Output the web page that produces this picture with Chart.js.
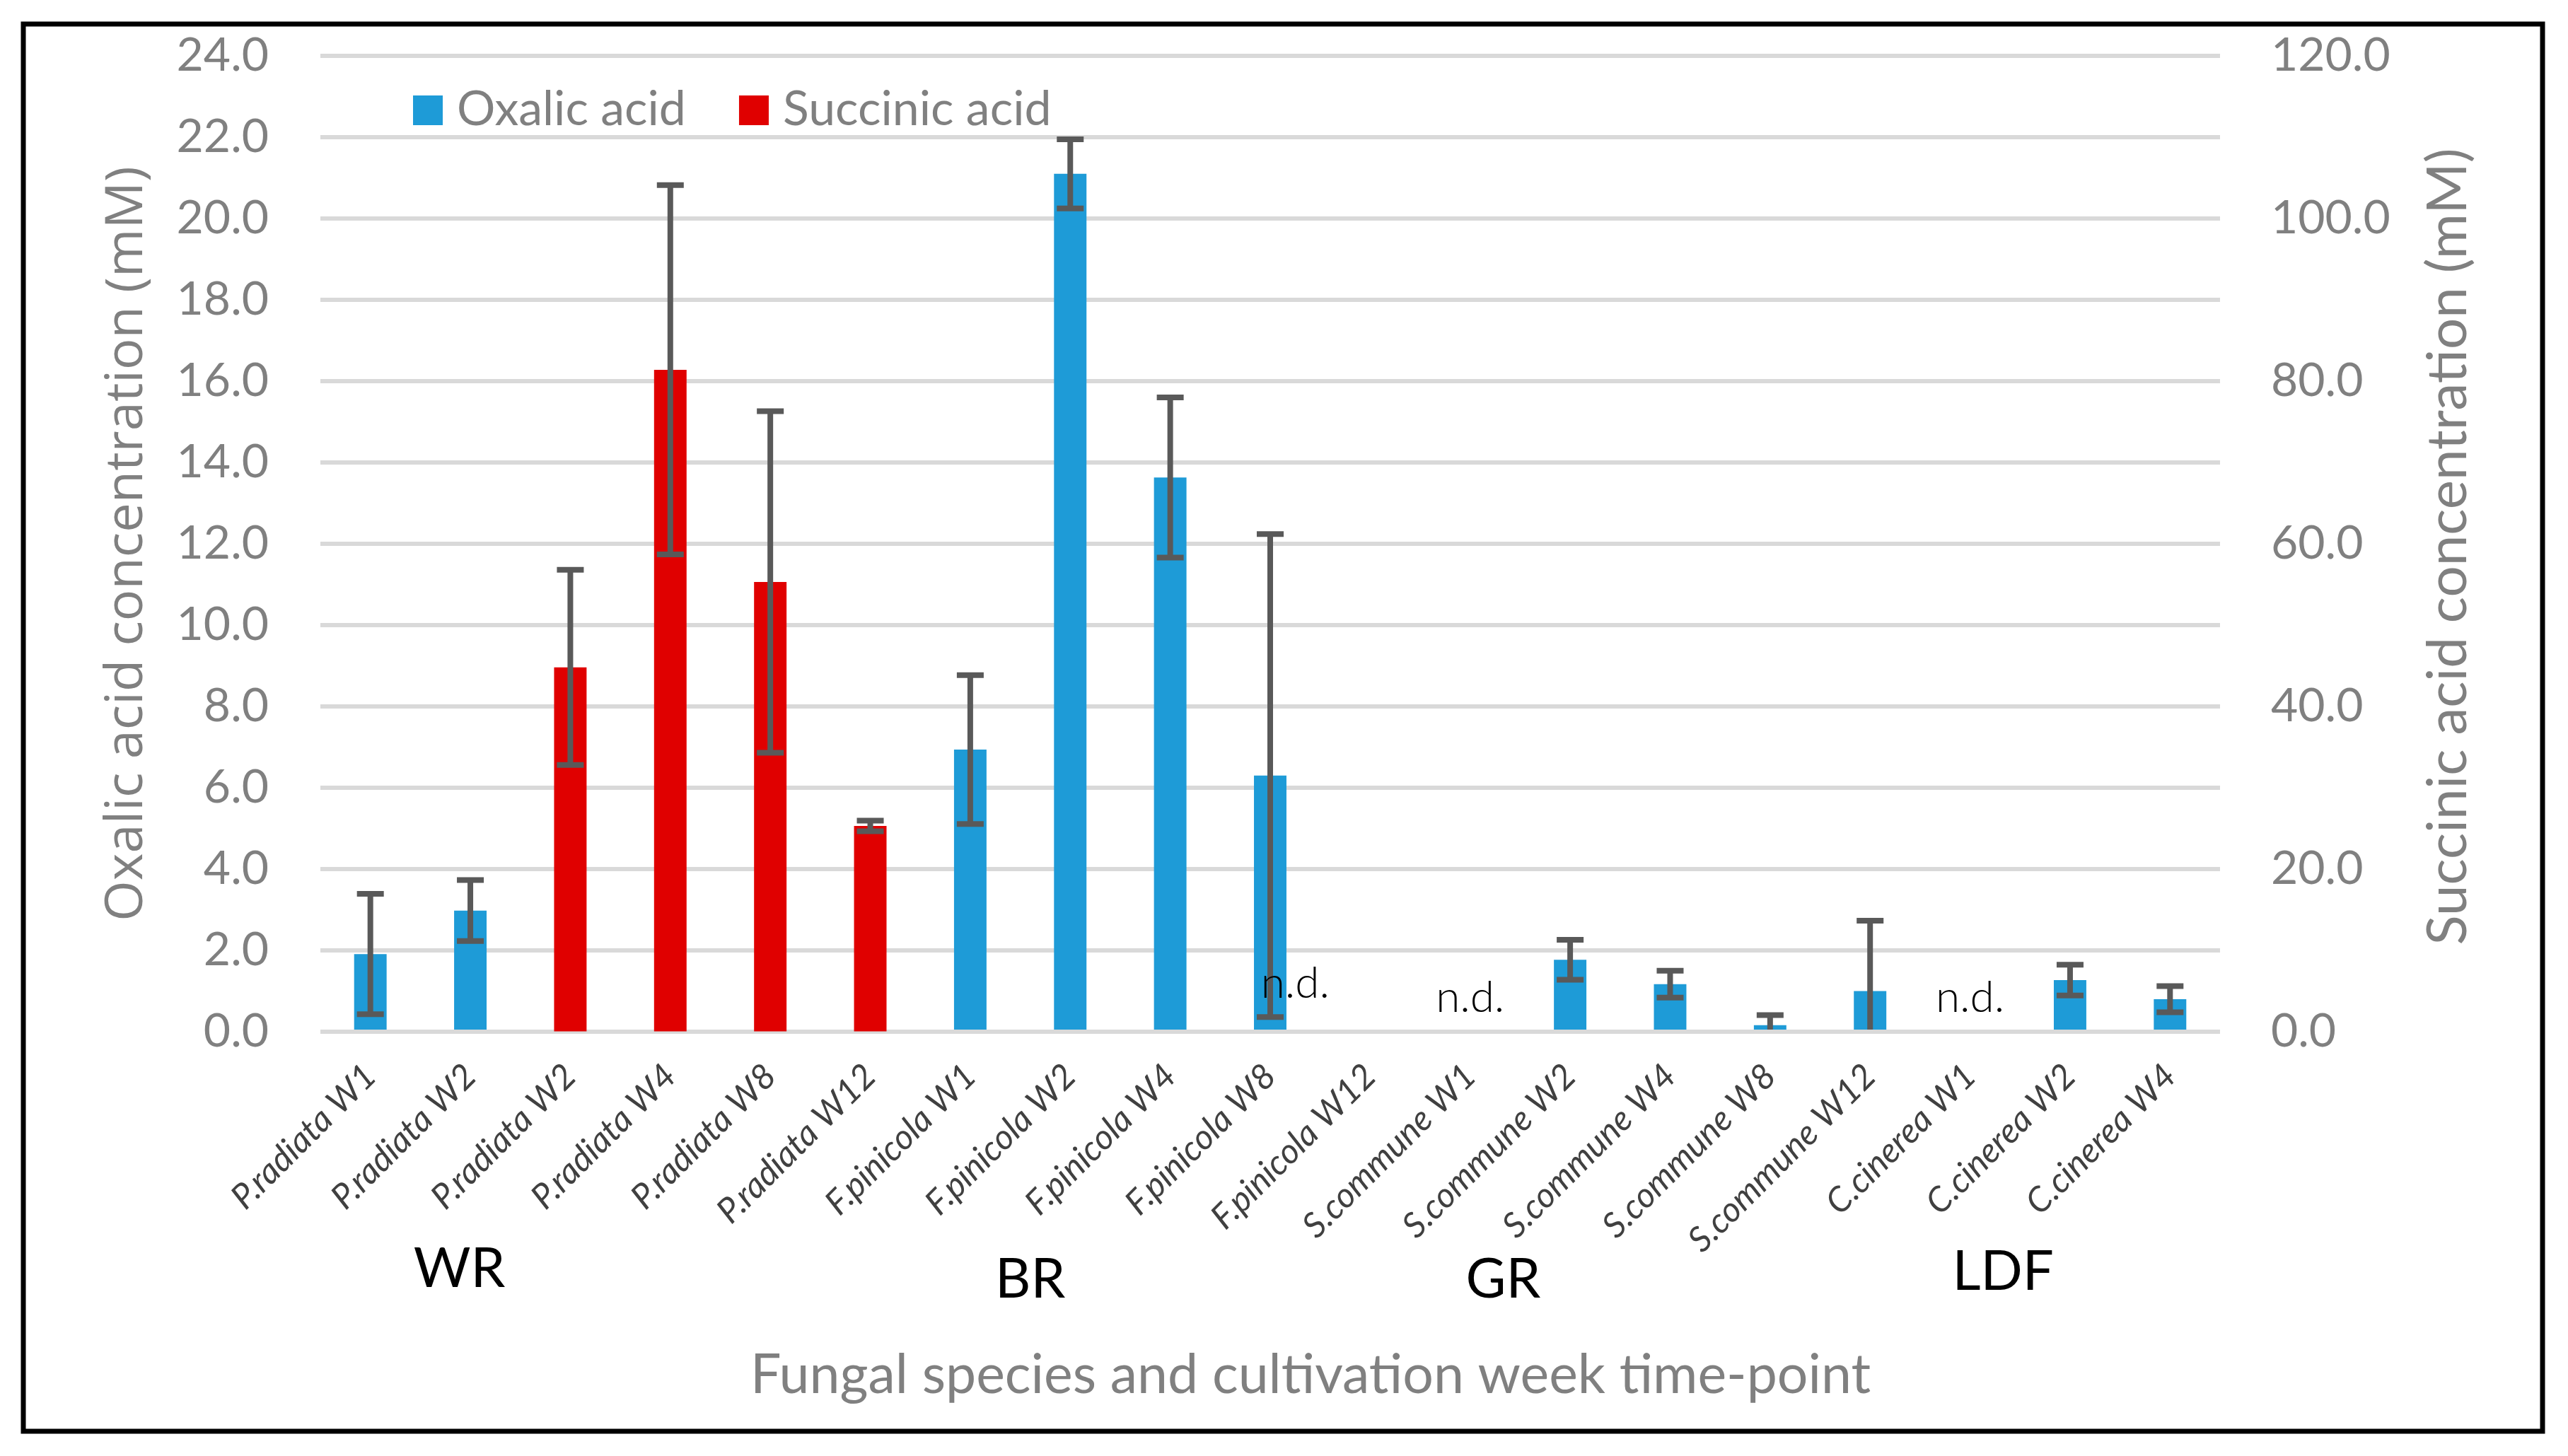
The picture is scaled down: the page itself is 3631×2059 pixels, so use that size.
<!DOCTYPE html>
<html>
<head>
<meta charset="utf-8">
<script src="https://cdn.jsdelivr.net/npm/chart.js@4.4.1/dist/chart.umd.min.js"></script>
<style>
  html, body { margin: 0; padding: 0; background: #fff; }
  #wrap { width: 3631px; height: 2059px; position: relative; }
</style>
</head>
<body>
<div id="wrap"><canvas id="chart"></canvas></div>
<script>
const categories = [
  "P.radiata W1", "P.radiata W2", "P.radiata W2", "P.radiata W4", "P.radiata W8", "P.radiata W12",
  "F.pinicola W1", "F.pinicola W2", "F.pinicola W4", "F.pinicola W8", "F.pinicola W12",
  "S.commune W1", "S.commune W2", "S.commune W4", "S.commune W8", "S.commune W12",
  "C.cinerea W1", "C.cinerea W2", "C.cinerea W4"
];
// oxalic acid, left axis (mM)
const oxalic    = [1.91, 2.98, null, null, null, null, 6.94, 21.1, 13.63, 6.30, null, null, 1.77, 1.17, 0.16, 1.0, null, 1.27, 0.80];
const oxalicErr = [1.48, 0.75, null, null, null, null, 1.83, 0.85, 1.97, 5.94, null, null, 0.49, 0.33, 0.25, 1.73, null, 0.38, 0.32];
// succinic acid, right axis (mM)
const succinic    = [null, null, 44.8, 81.4, 55.3, 25.3, null, null, null, null, null, null, null, null, null, null, null, null, null];
const succinicErr = [null, null, 12.0, 22.7, 21.0, 0.65, null, null, null, null, null, null, null, null, null, null, null, null, null];
// not detected samples
const notDetected = [10, 11, 16];
const groupNames = ["WR", "BR", "GR", "LDF"];
const leftMax = 24, leftStep = 2;
const rightMax = 120, rightStep = 20;

const BLUE = "#1e9bd7", RED = "#e00000", GREY = "#808080";
const errs = [oxalicErr, succinicErr];

const errorBars = {
  id: "errorBars",
  afterDatasetsDraw(chart) {
    const { ctx, chartArea } = chart;
    const xs = chart.scales.x;
    ctx.save();
    ctx.beginPath();
    ctx.rect(chartArea.left, 0, chartArea.width, chartArea.bottom - 3);
    ctx.clip();
    ctx.strokeStyle = "#595959";
    ctx.lineWidth = 8;
    chart.data.datasets.forEach((ds, di) => {
      const ys = chart.scales[ds.yAxisID];
      ds.data.forEach((v, i) => {
        const e = errs[di][i];
        if (v == null || e == null) return;
        const px = xs.getPixelForValue(i);
        const t = ys.getPixelForValue(v + e), b = ys.getPixelForValue(v - e);
        ctx.beginPath();
        ctx.moveTo(px, t); ctx.lineTo(px, b);
        ctx.moveTo(px - 19, t); ctx.lineTo(px + 19, t);
        ctx.moveTo(px - 19, b); ctx.lineTo(px + 19, b);
        ctx.stroke();
      });
    });
    ctx.restore();
  }
};

const extras = {
  id: "extras",
  afterDraw(chart) {
    const { ctx, chartArea } = chart;
    const xs = chart.scales.x;
    ctx.save();
    // legend
    ctx.font = "68px Lato";
    ctx.textBaseline = "middle";
    ctx.textAlign = "left";
    let lx = 584;
    chart.data.datasets.forEach(ds => {
      ctx.fillStyle = ds.backgroundColor;
      ctx.fillRect(lx, 135, 42, 42);
      ctx.fillStyle = GREY;
      ctx.fillText(ds.label, lx + 62, 155);
      lx += 62 + ctx.measureText(ds.label).width + 75;
    });
    // n.d. marks
    ctx.fillStyle = "#000";
    ctx.font = "300 62px Lato";
    ctx.textAlign = "center";
    ctx.textBaseline = "alphabetic";
    notDetected.forEach((i, k) => {
      const dx = k === 0 ? -106 : 0;
      const dy = k === 0 ? 48 : 28;
      ctx.fillText("n.d.", xs.getPixelForValue(i) + dx, chartArea.bottom - dy);
    });
    // group labels
    const at = [0.89, 6.6, 11.33, 16.33];
    const gy = [1795, 1810, 1810, 1799];
    ctx.font = "78px Lato";
    ctx.textBaseline = "middle";
    groupNames.forEach((g, k) => ctx.fillText(g, xs.getPixelForValue(at[k]), gy[k]));
    // x axis title
    ctx.fillStyle = GREY;
    ctx.font = "77px Lato";
    ctx.fillText("Fungal species and cultivation week time-point", 1853, 1945);
    // right axis title (reads upward)
    ctx.font = "78px Lato";
    ctx.translate(3462, (chartArea.top + chartArea.bottom) / 2 + 4);
    ctx.rotate(-Math.PI / 2);
    ctx.fillText("Succinic acid concentration (mM)", 0, 0);
    ctx.restore();
    // frame
    ctx.save();
    ctx.strokeStyle = "#000";
    ctx.lineWidth = 7;
    ctx.strokeRect(33, 34, 3562, 1990);
    ctx.restore();
  }
};

new Chart(document.getElementById("chart"), {
  type: "bar",
  data: {
    labels: categories,
    datasets: [
      { label: "Oxalic acid", data: oxalic, backgroundColor: BLUE, yAxisID: "y", grouped: false,
        categoryPercentage: 1, barPercentage: 0.325 },
      { label: "Succinic acid", data: succinic, backgroundColor: RED, yAxisID: "y1", grouped: false,
        categoryPercentage: 1, barPercentage: 0.325 }
    ]
  },
  options: {
    responsive: true,
    maintainAspectRatio: false,
    animation: false,
    devicePixelRatio: 1,
    layout: { padding: { top: 79, left: 0, right: 0, bottom: 0 } },
    plugins: { legend: { display: false }, tooltip: { enabled: false } },
    scales: {
      x: {
        grid: { display: false },
        border: { display: false },
        ticks: {
          autoSkip: false, maxRotation: 45, minRotation: 45, padding: 26,
          color: "#404040",
          font: { family: "Lato", style: "italic", size: 49 }
        },
        afterFit: s => { s.height = 600; }
      },
      y: {
        position: "left", min: 0, max: leftMax,
        ticks: { stepSize: leftStep, padding: 0, color: GREY, font: { family: "Lato", size: 66 },
                 callback: v => Number(v).toFixed(1) },
        grid: { color: "#d9d9d9", lineWidth: 6, drawTicks: true, tickLength: 73, tickColor: "rgba(0,0,0,0)" },
        border: { display: false },
        title: { display: true, text: "Oxalic acid concentration (mM)", color: GREY,
                 font: { family: "'Open Sans'", size: 74 }, padding: { top: 136, bottom: 0 } },
        afterFit: s => { s.width = 453; }
      },
      y1: {
        position: "right", min: 0, max: rightMax,
        ticks: { stepSize: rightStep, padding: 0, color: GREY, font: { family: "Lato", size: 66 },
                 callback: v => Number(v).toFixed(1) },
        grid: { drawOnChartArea: false, drawTicks: true, tickLength: 72, tickColor: "rgba(0,0,0,0)" },
        border: { display: false },
        afterFit: s => { s.width = 492; }
      }
    }
  },
  plugins: [errorBars, extras]
});
</script>
</body>
</html>
